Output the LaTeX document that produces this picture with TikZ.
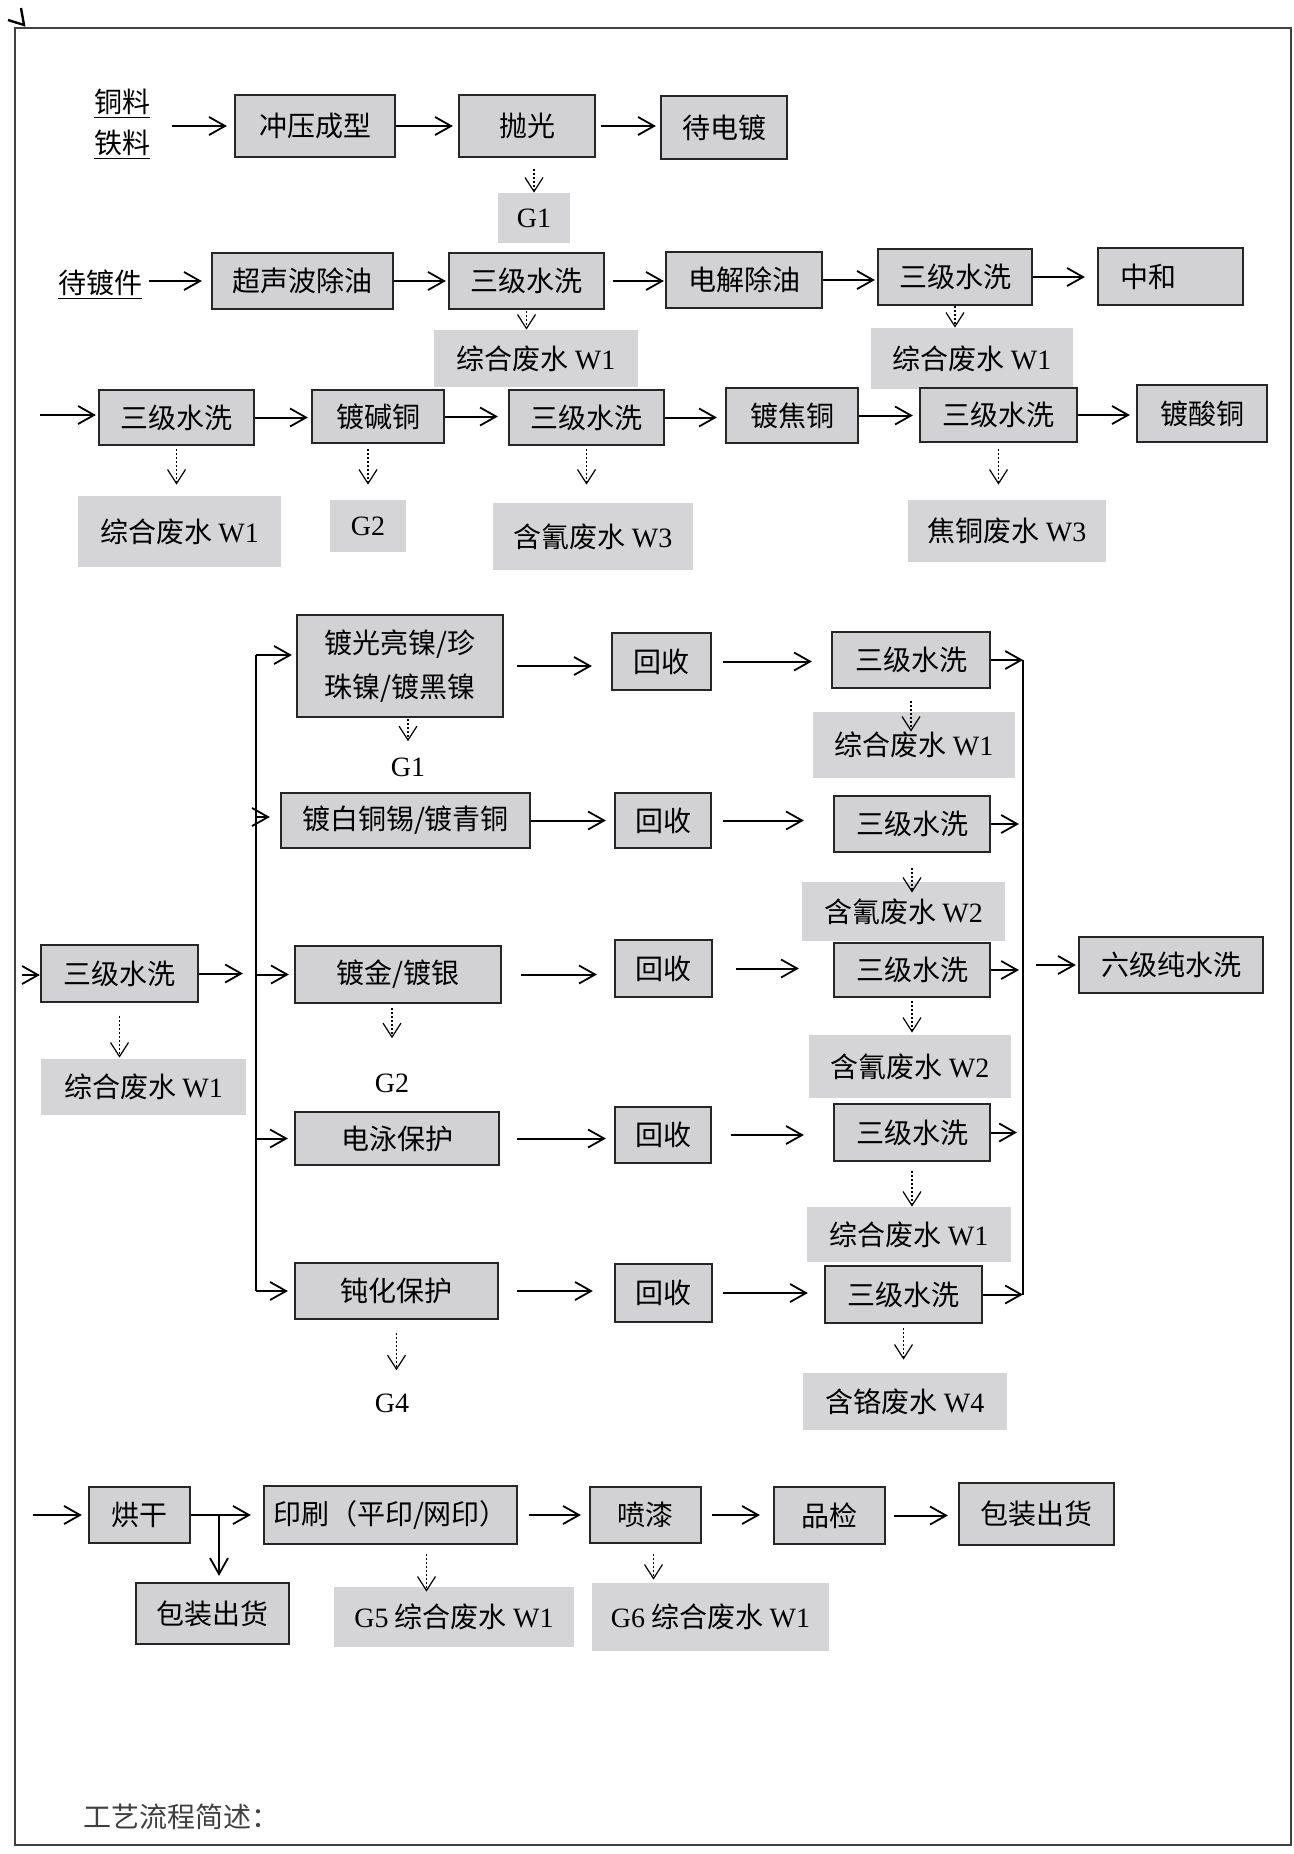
\documentclass[tikz,border=0pt]{standalone}
\usepackage{fontspec}
\setmainfont{Liberation Serif}
\newfontfamily\cjk{Noto Sans CJK SC}
\usetikzlibrary{arrows.meta}
\definecolor{boxgray}{RGB}{210,210,212}
\definecolor{wastegray}{RGB}{213,213,215}
\newcommand{\lat}[1]{{\rmfamily #1}}
\tikzset{
  dims/.style 2 args={minimum width=#1*0.5pt, minimum height=#2*0.5pt},
  proc/.style={draw=black!85, fill=boxgray, line width=1.1pt, inner sep=0pt},
  waste/.style={fill=wastegray, inner sep=0pt},
  lbl/.style={inner sep=0pt},
  flow/.style={line width=1pt, -{Straight Barb[length=8pt,width=9pt,line width=0.9pt]}},
  drip/.style={line width=0.6pt, dash pattern=on 1pt off 1pt,
    -{Straight Barb[length=7pt,width=9pt,line width=0.6pt]}},
}

\begin{document}
\begin{tikzpicture}[x=0.5pt, y=0.5pt, yscale=-1, font=\cjk\fontsize{14}{22}\selectfont]
  \useasboundingbox (0,0) rectangle (1294,1854);
  % page frame
  \draw[line width=1pt, draw=black!75] (15,28) rectangle (1291,1845);
  \draw[line width=1.2pt] (8,20) -- (24,25) -- (21,8);

  % row 1
  \node[lbl, align=center, font=\cjk\fontsize{14}{20.5}\selectfont] (mat) at (122,124)
    {\underline{铜料}\\\underline{铁料}};
  \node[proc, dims={160}{62}] (press) at (315,126) {冲压成型};
  \node[proc, dims={136}{62}] (polish) at (527,126) {抛光};
  \node[proc, dims={126}{63}] (ready) at (724,127.5) {待电镀};
  \node[waste, dims={72}{50}] (g1a) at (534,218) {\lat{G1}};
  \draw[flow, shorten <=11pt, shorten >=3.5pt] (mat.east |- press) -- (press.west);
  \draw[flow, shorten >=2.5pt] (press.east) -- (polish.west);
  \draw[flow, shorten <=2.5pt, shorten >=2pt] (polish.east) -- (ready.west |- polish.east);
  \draw[drip, shorten <=5.5pt] (polish.south -| g1a.north) -- (g1a.north);

  % row 2
  \node[lbl] (part) at (100,285) {\underline{待镀件}};
  \node[proc, dims={181}{56}] (ultra) at (302.5,281) {超声波除油};
  \node[proc, dims={155}{56}] (rinse1) at (526.5,281) {三级水洗};
  \node[proc, dims={156}{56}] (degrease) at (744,280) {电解除油};
  \node[proc, dims={154}{56}] (rinse2) at (955,277) {三级水洗};
  \node[proc, dims={145}{57}] (neutral) at (1170.5,276.5) {中和\hspace{1.6em}\null};
  \node[waste, dims={204}{57}] (w1a) at (536,358.5) {综合废水 \lat{W1}};
  \node[waste, dims={202}{61}] (w1b) at (972,358.5) {综合废水 \lat{W1}};
  \draw[flow, shorten <=3.5pt, shorten >=4.5pt] (part.east |- ultra) -- (ultra.west);
  \draw[flow, shorten >=1pt] (ultra.east) -- (rinse1.west);
  \draw[flow, shorten <=4pt, shorten >=0.5pt] (rinse1.east) -- (rinse1.east -| degrease.west);
  \draw[flow, shorten >=1pt] (degrease.east) -- (degrease.east -| rinse2.west);
  \draw[flow, shorten >=6pt] (rinse2.east) -- (neutral.west |- rinse2.east);
  \draw[drip, shorten <=0.5pt] (rinse1.south) -- (rinse1.south |- w1a.north);
  \draw[drip] (rinse2.south) -- (rinse2.south |- w1b.north);

  % row 3
  \coordinate (in3) at (40,415);
  \node[proc, dims={155}{55}] (rinse3) at (176.5,417.5) {三级水洗};
  \node[proc, dims={132}{53}] (cuA) at (378,416.5) {镀碱铜};
  \node[proc, dims={155}{55}] (rinse4) at (586.5,417.5) {三级水洗};
  \node[proc, dims={132}{55}] (cuP) at (792,415.5) {镀焦铜};
  \node[proc, dims={157}{54}] (rinse5) at (998.5,415) {三级水洗};
  \node[proc, dims={130}{57}] (cuS) at (1202,413.5) {镀酸铜};
  \node[waste, dims={203}{71}] (w1c) at (179.5,531.5) {综合废水 \lat{W1}};
  \node[waste, dims={76}{52}] (g2a) at (368,526) {\lat{G2}};
  \node[waste, dims={200}{67}] (w3a) at (593,536.5) {含氰废水 \lat{W3}};
  \node[waste, dims={198}{62}] (w3b) at (1007,531) {焦铜废水 \lat{W3}};
  \draw[flow, shorten >=1pt] (in3) -- (in3 -| rinse3.west);
  \draw[flow, shorten >=1.5pt] (rinse3.east) -- (rinse3.east -| cuA.west);
  \draw[flow, shorten >=5pt] (cuA.east) -- (cuA.east -| rinse4.west);
  \draw[flow, shorten >=4pt] (rinse4.east) -- (rinse4.east -| cuP.west);
  \draw[flow, shorten >=3pt] (cuP.east) -- (cuP.east -| rinse5.west);
  \draw[flow, shorten >=3pt] (rinse5.east) -- (rinse5.east -| cuS.west);
  \draw[drip, shorten <=1.5pt, shorten >=5.5pt] (rinse3.south) -- (rinse3.south |- w1c.north);
  \draw[drip, shorten <=2.5pt, shorten >=7.5pt] (cuA.south -| g2a.north) -- (g2a.north);
  \draw[drip, shorten <=1.5pt, shorten >=9pt] (rinse4.south) -- (rinse4.south |- w3a.north);
  \draw[drip, shorten <=3pt, shorten >=7.5pt] (rinse5.south) -- (rinse5.south |- w3b.north);

  % plating branches
  \coordinate (busL) at (256,655);
  \coordinate (busLend) at (256,1291);
  \coordinate (busR) at (1023,660);
  \draw[line width=1pt] (busL) -- (busLend);

  \node[proc, dims={206}{102}, align=left] (nickel) at (400,666) {镀光亮镍/珍\\珠镍/镀黑镍};
  \node[proc, dims={99}{57}] (rec1) at (661.5,661.5) {回收};
  \node[proc, dims={158}{56}] (rs1) at (911,660) {三级水洗};
  \node[waste, dims={202}{66}] (w1d) at (914,745) {综合废水 \lat{W1}};
  \node[lbl] (g1b) at (408,767) {\lat{G1}};
  \draw[flow, shorten >=2pt] (busL) -- (busL -| nickel.west);
  \draw[flow, shorten <=6.5pt, shorten >=9.5pt] (nickel.east) -- (nickel.east -| rec1.west);
  \draw[flow, shorten <=5.5pt, shorten >=9.5pt] (rec1.east) -- (rec1.east -| rs1.west);
  \draw[flow] (rs1.east) -- (rs1.east -| busR);
  \draw[drip, shorten <=6pt, shorten >=-10pt] (rs1.south) -- (rs1.south |- w1d.north);
  \draw[drip, shorten <=0.5pt, shorten >=8pt] (nickel.south -| g1b.north) -- (g1b.north);

  \coordinate (b2) at (256,817);
  \node[proc, dims={249}{55}] (bronze) at (405.5,820.5) {镀白铜锡/镀青铜};
  \node[proc, dims={96}{55}] (rec2) at (663,820.5) {回收};
  \node[proc, dims={156}{56}] (rs2) at (912,824) {三级水洗};
  \node[waste, dims={203}{59}] (w2a) at (903.5,911.5) {含氰废水 \lat{W2}};
  \draw[flow, shorten >=5pt] (b2) -- (b2 -| bronze.west);
  \draw[flow, shorten >=4pt] (bronze.east) -- (bronze.east -| rec2.west);
  \draw[flow, shorten <=5.5pt, shorten >=14.5pt] (rec2.east) -- (rec2.east -| rs2.west);
  \draw[flow, shorten >=2pt] (rs2.east) -- (rs2.east -| busR);
  \draw[drip, shorten <=7.5pt, shorten >=-5.5pt] (rs2.south) -- (rs2.south |- w2a.north);

  \coordinate (in5) at (22,975);
  \node[proc, dims={157}{57}] (rs0) at (119.5,973.5) {三级水洗};
  \node[proc, dims={206}{57}] (gold) at (398,974.5) {镀金/镀银};
  \node[proc, dims={97}{57}] (rec3) at (663.5,968.5) {回收};
  \node[proc, dims={156}{54}] (rs3) at (912,970) {三级水洗};
  \node[proc, dims={184}{56}] (pure) at (1171,965) {六级纯水洗};
  \node[waste, dims={202}{63}] (w2b) at (910,1066.5) {含氰废水 \lat{W2}};
  \node[waste, dims={205}{56}] (w1e) at (143.5,1087) {综合废水 \lat{W1}};
  \node[lbl] (g2b) at (392,1083) {\lat{G2}};
  \draw[flow] (in5) -- (in5 -| rs0.west);
  \draw[flow, shorten >=6.5pt] (rs0.east) -- (rs0.east -| busL);
  \draw[flow, shorten >=2.5pt] (gold.west -| busL) -- (gold.west);
  \draw[flow, shorten <=9.5pt, shorten >=8.5pt] (gold.east) -- (gold.east -| rec3.west);
  \draw[flow, shorten <=11.5pt, shorten >=17pt] (rec3.east) -- (rec3.east -| rs3.west);
  \draw[flow, shorten >=2pt] (rs3.east) -- (rs3.east -| busR);
  \draw[flow, shorten <=6.5pt, shorten >=1pt] (pure.west -| busR) -- (pure.west);
  \draw[drip, shorten <=1.5pt, shorten >=1pt] (rs3.south) -- (rs3.south |- w2b.north);
  \draw[drip, shorten <=2pt, shorten >=17.5pt] (gold.south -| g2b.north) -- (g2b.north);
  \draw[drip, shorten <=6.5pt, shorten >=0.5pt] (rs0.south) -- (rs0.south |- w1e.north);

  \node[proc, dims={204}{53}] (ephor) at (397,1138.5) {电泳保护};
  \node[proc, dims={96}{56}] (rec4) at (663,1135) {回收};
  \node[proc, dims={156}{57}] (rs4) at (912,1132.5) {三级水洗};
  \node[waste, dims={204}{55}] (w1f) at (909,1234.5) {综合废水 \lat{W1}};
  \draw[flow, shorten >=3pt] (ephor.west -| busL) -- (ephor.west);
  \draw[flow, shorten <=8.5pt, shorten >=4pt] (ephor.east) -- (ephor.east -| rec4.west);
  \draw[flow, shorten <=9.5pt, shorten >=14.5pt] (rec4.east) -- (rec4.east -| rs4.west);
  \draw[flow, shorten >=3pt] (rs4.east) -- (rs4.east -| busR);
  \draw[drip, shorten <=4.5pt] (rs4.south) -- (rs4.south |- w1f.north);

  \node[proc, dims={203}{56}] (passiv) at (396.5,1291) {钝化保护};
  \node[proc, dims={97}{58}] (rec5) at (663.5,1293) {回收};
  \node[proc, dims={157}{57}] (rs5) at (903.5,1294.5) {三级水洗};
  \node[waste, dims={204}{57}] (w4) at (905,1401.5) {含铬废水 \lat{W4}};
  \node[lbl] (g4) at (392,1403) {\lat{G4}};
  \draw[flow, shorten >=3pt] (busLend) -- (busLend -| passiv.west);
  \draw[flow, shorten <=9pt, shorten >=10.5pt] (passiv.east) -- (passiv.east -| rec5.west);
  \draw[flow, shorten <=5pt, shorten >=8pt] (rec5.east) -- (rec5.east -| rs5.west);
  \draw[flow] (rs5.east) -- (rs5.east -| busR);
  \draw[drip, shorten <=2pt, shorten >=6.5pt] (rs5.south) -- (rs5.south |- w4.north);
  \draw[drip, shorten <=6.5pt, shorten >=11.5pt] (passiv.south) -- (passiv.south |- g4.north);
  \draw[line width=1pt] (busR) -- (busR |- rs5.east);

  % finishing
  \coordinate (in7) at (33,1515);
  \coordinate (split) at (219,1515);
  \node[proc, dims={101}{56}] (dry) at (139.5,1515) {烘干};
  \node[proc, dims={253}{58}] (print) at (390.5,1515) {印刷（平印/网印）};
  \node[proc, dims={111}{56}] (spray) at (645.5,1515) {喷漆};
  \node[proc, dims={111}{57}] (qc) at (829.5,1515.5) {品检};
  \node[proc, dims={155}{62}] (pack) at (1036.5,1514) {包装出货};
  \node[proc, dims={153}{61}] (pack2) at (212.5,1613.5) {包装出货};
  \node[waste, dims={240}{60}] (g5) at (454,1617) {\lat{G5} 综合废水 \lat{W1}};
  \node[waste, dims={237}{68}] (g6) at (710.5,1617) {\lat{G6} 综合废水 \lat{W1}};
  \draw[flow, shorten >=3pt] (in7) -- (dry.west);
  \draw[flow, shorten >=6pt] (dry.east) -- (print.west);
  \draw[flow, shorten <=5.5pt, shorten >=4pt] (print.east) -- (spray.west);
  \draw[flow, shorten <=5pt, shorten >=6.5pt] (spray.east) -- (spray.east -| qc.west);
  \draw[flow, shorten <=4pt, shorten >=5pt] (qc.east) -- (qc.east -| pack.west);
  \draw[flow, shorten >=3pt] (split) -- (split |- pack2.north);
  \draw[drip, shorten <=4.5pt, shorten >=-2.5pt] ([xshift=18pt]print.south) -- ([xshift=18pt]print.south |- g5.north);
  \draw[drip, shorten <=5pt, shorten >=1.5pt] ([xshift=4pt]spray.south) -- ([xshift=4pt]spray.south |- g6.north);

  \node[lbl, anchor=west, text=black!75] (note) at (83,1817) {工艺流程简述：};
\end{tikzpicture}
\end{document}
